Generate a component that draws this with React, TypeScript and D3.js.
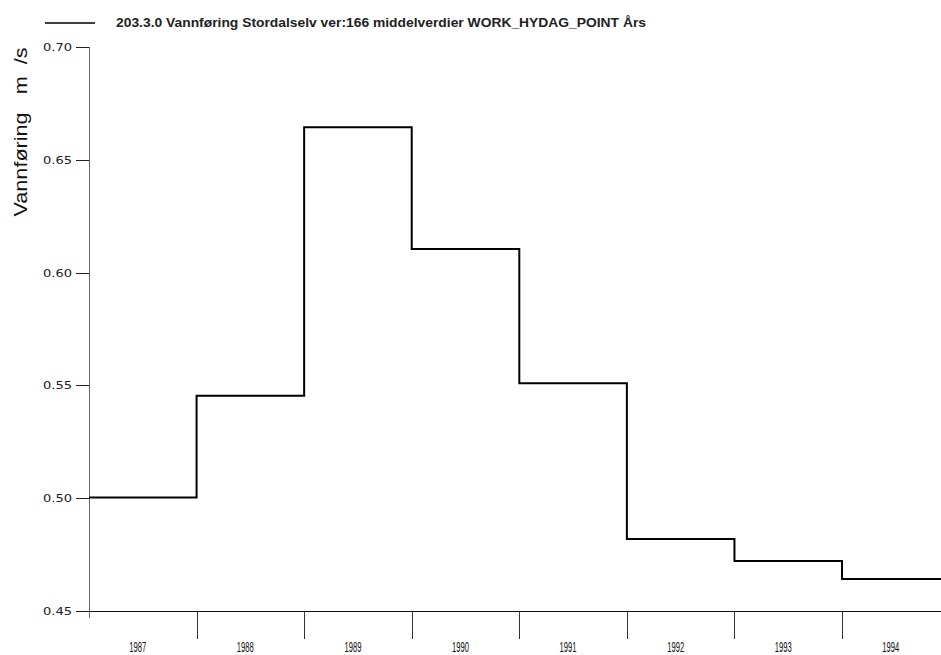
import React from "react";
import * as d3 from "d3";

const years = [1987, 1988, 1989, 1990, 1991, 1992, 1993, 1994];
const values = [0.5003, 0.5454, 0.6644, 0.6105, 0.5509, 0.4819, 0.4722, 0.4642];
const yTicks = [0.45, 0.5, 0.55, 0.6, 0.65, 0.7];
const title = "203.3.0 Vannføring Stordalselv ver:166 middelverdier WORK_HYDAG_POINT Års";
const yLabel = "Vannføring   m  /s";

const W = 941;
const H = 655;

export default function App() {
  const x = d3.scaleLinear().domain([1987, 1995]).range([89, 949.6]);
  const y = d3.scaleLinear().domain([0.45, 0.7]).range([611, 47]);

  const pts: [number, number][] = years.map((yr, i) => [yr, values[i]]);
  pts.push([1995, values[values.length - 1]]);
  const line = d3
    .line<[number, number]>()
    .x((d) => x(d[0]))
    .y((d) => y(d[1]))
    .curve(d3.curveStepAfter);

  const boundaries = years.slice(1);

  return (
    <svg
      width={W}
      height={H}
      style={{ position: "absolute", left: 0, top: 0, background: "#fff" }}
    >
      <rect x={0} y={0} width={W} height={H} fill="#fff" />
      {/* legend */}
      <line x1={45} x2={95} y1={23} y2={23} stroke="#000" strokeWidth={1.5} />
      <text
        x={116}
        y={27}
        fontFamily="Liberation Sans Narrow, Liberation Sans, Arial, sans-serif"
        fontSize={13}
        fontWeight="bold"
        textLength={530}
        lengthAdjust="spacingAndGlyphs"
        fill="#222"
      >
        {title}
      </text>
      {/* y label */}
      <text
        transform={`translate(27,132) rotate(-90)`}
        textAnchor="middle"
        fontFamily="Liberation Sans Narrow, Liberation Sans, Arial, sans-serif"
        fontSize={19}
        textLength={169}
        lengthAdjust="spacingAndGlyphs"
        fill="#111"
        style={{ whiteSpace: "pre" }}
      >
        {yLabel}
      </text>
      {/* y axis */}
      <line x1={89.5} x2={89.5} y1={47} y2={618} stroke="#666" strokeWidth={1} />
      {yTicks.map((t) => (
        <g key={t}>
          <line x1={76} x2={89} y1={Math.round(y(t)) + 0.5} y2={Math.round(y(t)) + 0.5} stroke="#222" />
          <text
            x={72}
            y={y(t) + 4}
            textAnchor="end"
            fontFamily="DejaVu Sans, sans-serif"
            fontSize={10}
            textLength={29}
            lengthAdjust="spacingAndGlyphs"
            fill="#222"
          >
            {t.toFixed(2)}
          </text>
        </g>
      ))}
      {/* x axis */}
      <line x1={89} x2={W} y1={611.5} y2={611.5} stroke="#111" strokeWidth={1} />
      {boundaries.map((b) => (
        <line
          key={b}
          x1={Math.round(x(b)) + 0.5}
          x2={Math.round(x(b)) + 0.5}
          y1={611}
          y2={639}
          stroke="#333"
        />
      ))}
      {years.map((yr) => (
        <text
          key={yr}
          x={x(yr + 0.5) - 5}
          y={652}
          textAnchor="middle"
          fontFamily="Liberation Sans Narrow, Liberation Sans, Arial, sans-serif"
          fontSize={14}
          textLength={17}
          lengthAdjust="spacingAndGlyphs"
          fill="#111"
        >
          {String(yr)}
        </text>
      ))}
      {/* data */}
      <path d={line(pts) || ""} fill="none" stroke="#000" strokeWidth={2} />
    </svg>
  );
}
